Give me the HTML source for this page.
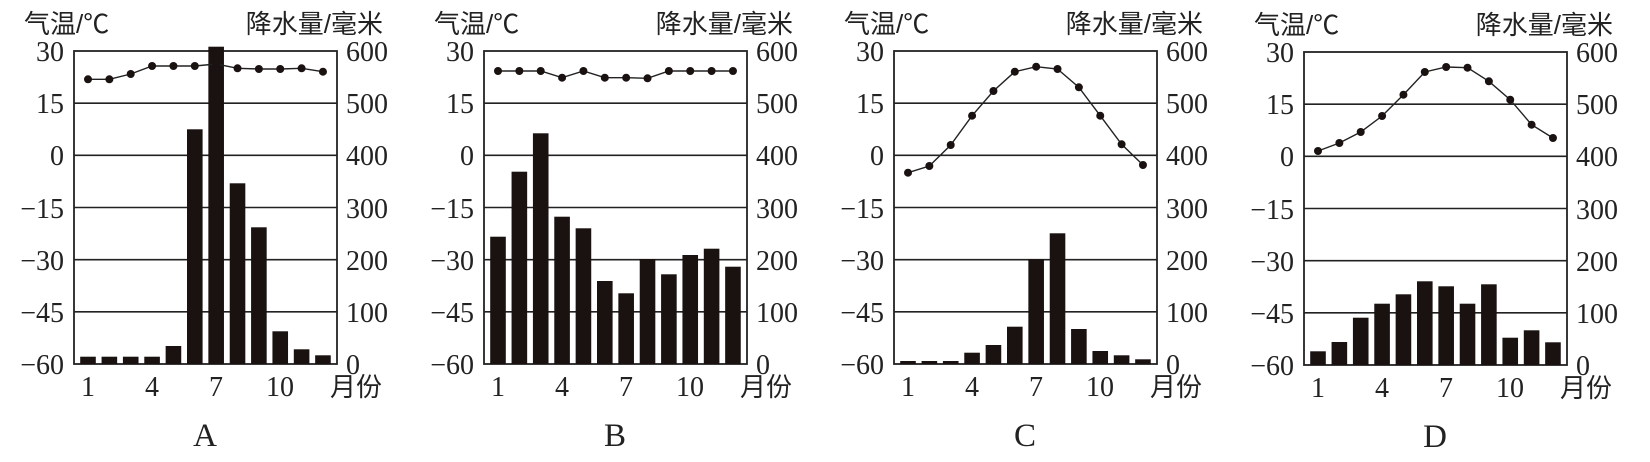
<!DOCTYPE html>
<html><head><meta charset="utf-8">
<style>
html,body{margin:0;padding:0;background:#fff;}
svg{display:block;}
.n{font-family:"Liberation Serif",serif;font-size:28px;fill:#222;}
.cj{font-family:"Liberation Sans","Noto Sans CJK SC",sans-serif;font-size:26px;fill:#222;}
.L{font-family:"Liberation Serif",serif;font-size:33px;fill:#222;}
</style></head><body>
<svg id="s" width="1650" height="462" viewBox="0 0 1650 462" xmlns="http://www.w3.org/2000/svg">
<g id="gA" transform="translate(74,51)">
<text x="-50" y="-18" class="cj">气温/℃</text><text x="309" y="-18" text-anchor="end" class="cj">降水量/毫米</text>
<g class="n" text-anchor="end"><text x="-10" y="10">30</text><text x="-10" y="62">15</text><text x="-10" y="114">0</text><text x="-10" y="167">−15</text><text x="-10" y="219">−30</text><text x="-10" y="271">−45</text><text x="-10" y="323">−60</text></g>
<g class="n"><text x="272" y="10">600</text><text x="272" y="62">500</text><text x="272" y="114">400</text><text x="272" y="167">300</text><text x="272" y="219">200</text><text x="272" y="271">100</text><text x="272" y="323">0</text></g>
<g class="n" text-anchor="middle"><text x="14" y="345">1</text><text x="78" y="345">4</text><text x="142" y="345">7</text><text x="206" y="345">10</text></g>
<text x="256" y="345" class="cj">月份</text><text x="131" y="395" class="L" text-anchor="middle">A</text>
</g>
<g id="gB" transform="translate(484,51)">
<text x="-50" y="-18" class="cj">气温/℃</text><text x="309" y="-18" text-anchor="end" class="cj">降水量/毫米</text>
<g class="n" text-anchor="end"><text x="-10" y="10">30</text><text x="-10" y="62">15</text><text x="-10" y="114">0</text><text x="-10" y="167">−15</text><text x="-10" y="219">−30</text><text x="-10" y="271">−45</text><text x="-10" y="323">−60</text></g>
<g class="n"><text x="272" y="10">600</text><text x="272" y="62">500</text><text x="272" y="114">400</text><text x="272" y="167">300</text><text x="272" y="219">200</text><text x="272" y="271">100</text><text x="272" y="323">0</text></g>
<g class="n" text-anchor="middle"><text x="14" y="345">1</text><text x="78" y="345">4</text><text x="142" y="345">7</text><text x="206" y="345">10</text></g>
<text x="256" y="345" class="cj">月份</text><text x="131" y="395" class="L" text-anchor="middle">B</text>
</g>
<g id="gC" transform="translate(894,51)">
<text x="-50" y="-18" class="cj">气温/℃</text><text x="309" y="-18" text-anchor="end" class="cj">降水量/毫米</text>
<g class="n" text-anchor="end"><text x="-10" y="10">30</text><text x="-10" y="62">15</text><text x="-10" y="114">0</text><text x="-10" y="167">−15</text><text x="-10" y="219">−30</text><text x="-10" y="271">−45</text><text x="-10" y="323">−60</text></g>
<g class="n"><text x="272" y="10">600</text><text x="272" y="62">500</text><text x="272" y="114">400</text><text x="272" y="167">300</text><text x="272" y="219">200</text><text x="272" y="271">100</text><text x="272" y="323">0</text></g>
<g class="n" text-anchor="middle"><text x="14" y="345">1</text><text x="78" y="345">4</text><text x="142" y="345">7</text><text x="206" y="345">10</text></g>
<text x="256" y="345" class="cj">月份</text><text x="131" y="395" class="L" text-anchor="middle">C</text>
</g>
<g id="gD" transform="translate(1304,52)">
<text x="-50" y="-18" class="cj">气温/℃</text><text x="309" y="-18" text-anchor="end" class="cj">降水量/毫米</text>
<g class="n" text-anchor="end"><text x="-10" y="10">30</text><text x="-10" y="62">15</text><text x="-10" y="114">0</text><text x="-10" y="167">−15</text><text x="-10" y="219">−30</text><text x="-10" y="271">−45</text><text x="-10" y="323">−60</text></g>
<g class="n"><text x="272" y="10">600</text><text x="272" y="62">500</text><text x="272" y="114">400</text><text x="272" y="167">300</text><text x="272" y="219">200</text><text x="272" y="271">100</text><text x="272" y="323">0</text></g>
<g class="n" text-anchor="middle"><text x="14" y="345">1</text><text x="78" y="345">4</text><text x="142" y="345">7</text><text x="206" y="345">10</text></g>
<text x="256" y="345" class="cj">月份</text><text x="131" y="395" class="L" text-anchor="middle">D</text>
</g>
</svg>
<script>
var NS="http://www.w3.org/2000/svg";
function el(g,t,a){var e=document.createElementNS(NS,t);for(var k in a)e.setAttribute(k,a[k]);g.appendChild(e);return e;}
var data={
gA:{t:[28.3,28.3,23,15,15,15,13,17.3,18,18,17.3,20.7],b:[305.7,305.7,305.7,305.7,295,78.3,-4.3,132.3,176.3,280.3,298.3,304.3]},
gB:{t:[20,20,20,26.7,20,26.7,26.7,27.3,20,20,20,20],b:[185.7,120.7,82.3,165.7,177.3,230,242.3,208,223.3,204,197.7,215.7]},
gC:{t:[121.7,115,94,64.7,40,20.7,15.7,18,36.3,64.7,93.3,114],b:[310,310,310,301.7,294,275.7,208.3,182.3,278,300,304.3,308.3]},
gD:{t:[99,91,80,64,42.7,20,15,15.7,29.3,47.7,72.7,86],b:[299.3,290,265.7,251.7,242.3,229.3,234.3,251.7,232.3,285.7,278.3,290.3]}
};
var W=263,H=313;
for(var id in data){
 var g=document.getElementById(id),d=data[id];
 var first=g.firstChild;
 var sg=document.createElementNS(NS,"g");g.insertBefore(sg,first);
 for(var i=1;i<6;i++){var y=i*H/6;el(sg,"line",{x1:0,x2:W,y1:y,y2:y,stroke:"#222","stroke-width":1.6});}
 el(sg,"rect",{x:0,y:0,width:W,height:H,fill:"none",stroke:"#222","stroke-width":1.8});
 var pts=[];
 for(var i=0;i<12;i++){
  var x=14+i*21.36;
  el(sg,"rect",{x:x-7.8,y:d.b[i],width:15.6,height:H-d.b[i],fill:"#1a1111"});
  pts.push(x+","+d.t[i]);
 }
 el(sg,"polyline",{points:pts.join(" "),fill:"none",stroke:"#222","stroke-width":1.4});
 for(var i=0;i<12;i++){el(sg,"circle",{cx:14+i*21.36,cy:d.t[i],r:4,fill:"#1a1111"});}
}
</script>
</body></html>
